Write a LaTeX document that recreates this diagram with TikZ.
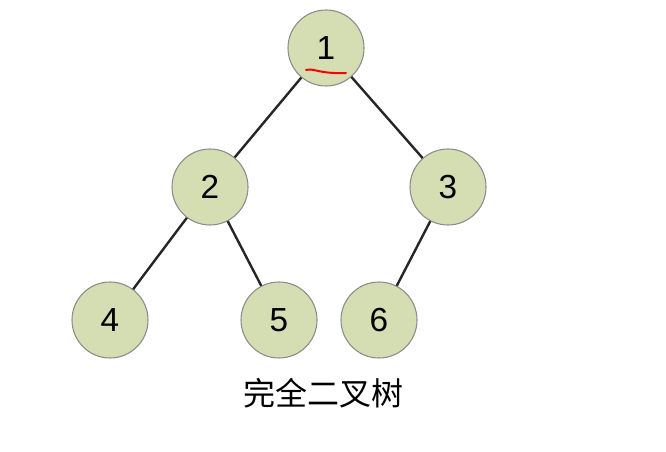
\documentclass[tikz,border=0pt]{standalone}
\usepackage{fontspec}
\setmainfont{Liberation Sans}
\newfontfamily\cjk{Noto Sans CJK SC}
\begin{document}
\begin{tikzpicture}[x=0.75pt,y=-0.75pt,
  nd/.style={circle,draw=black!45,line width=0.8pt,fill={rgb,255:red,213;green,222;blue,178},minimum size=57pt,inner sep=0pt,font=\fontsize{25}{25}\selectfont},
  ed/.style={line width=1.8pt,black!85}]
\useasboundingbox (0,0) rectangle (666,452);
\fill[white] (0,0) rectangle (666,452);
\node[nd] (n1) at (326,48) {1};
\node[nd] (n2) at (210,187) {2};
\node[nd] (n3) at (448,187) {3};
\node[nd] (n4) at (110,320) {4};
\node[nd] (n5) at (279,320) {5};
\node[nd] (n6) at (379,320) {6};
\draw[ed] (n1) -- (n2);
\draw[ed] (n1) -- (n3);
\draw[ed] (n2) -- (n4);
\draw[ed] (n2) -- (n5);
\draw[ed] (n3) -- (n6);
\coordinate (r1) at (306,70);
\coordinate (r2) at (346,73);
\draw[red,line width=1.5pt,line cap=round] (r1) .. controls (315,68) and (318,74) .. (r2);
\node (cap) at (323,393) {\cjk\fontsize{24}{24}\selectfont 完全二叉树};
\end{tikzpicture}
\end{document}
